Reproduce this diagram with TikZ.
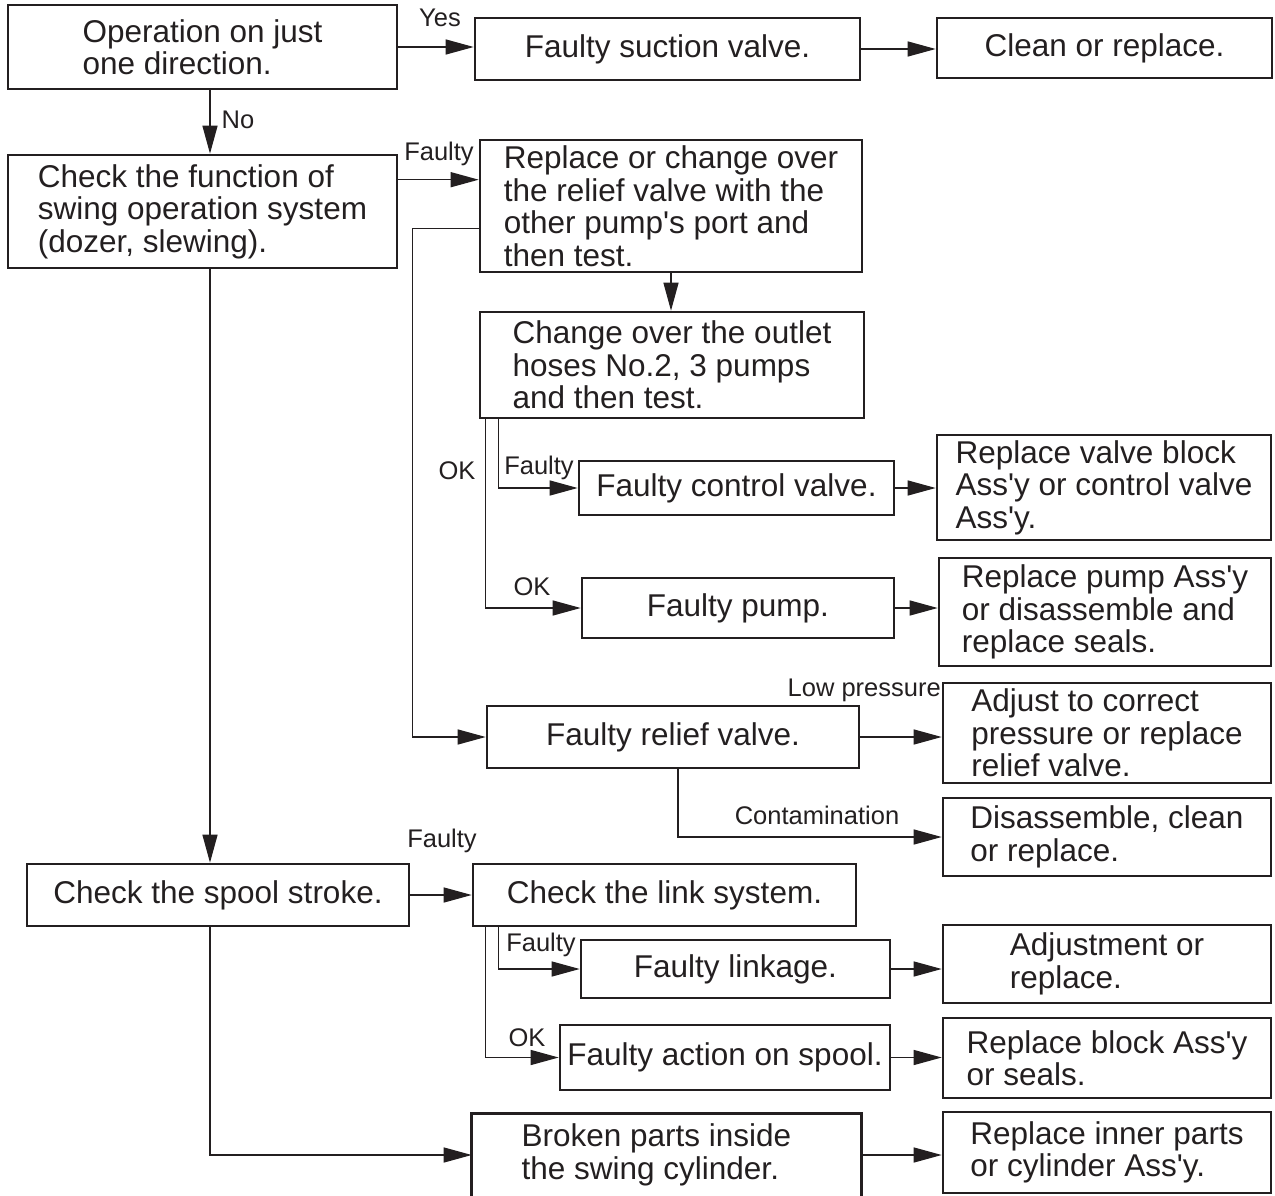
\documentclass[tikz,border=0pt]{standalone}
\usepackage{fontspec}
\newfontfamily\lsans{Liberation Sans}
\usetikzlibrary{arrows.meta,calc}
\definecolor{ink}{HTML}{231F20}
\begin{document}
\begin{tikzpicture}[x=1pt,y=-1pt,
  box/.style={draw=ink, line width=2.6pt, align=left, inner sep=0pt, text=ink,
    font=\lsans\fontsize{31.5}{32.5}\selectfont},
  lbl/.style={font=\lsans\fontsize{25.5}{27}\selectfont, text=ink, inner sep=0pt},
  arr/.style={draw=ink, line width=1.3pt, -{Triangle[length=28pt,width=15pt]}},
  ]
\useasboundingbox (0,0) rectangle (1275,1196);

% boxes
\node[box, minimum width=389pt, minimum height=84pt]  (A) at (202.5,47)   {Operation on just\\one direction.};
\node[box, minimum width=385pt, minimum height=62pt]  (B) at (667.5,49)   {Faulty suction valve.};
\node[box, minimum width=335pt, minimum height=60pt]  (C) at (1104.5,48)  {Clean or replace.};
\node[box, minimum width=389pt, minimum height=113pt] (D) at (202.5,211.5) {Check the function of\\swing operation system\\(dozer, slewing).};
\node[box, minimum width=382pt, minimum height=132pt] (E) at (671,206)    {Replace or change over\\the relief valve with the\\other pump's port and\\then test.};
\node[box, minimum width=384pt, minimum height=106pt] (F) at (672,365)    {Change over the outlet\\hoses No.2, 3 pumps\\and then test.};
\node[box, minimum width=315pt, minimum height=54pt]  (G) at (736.5,488)  {Faulty control valve.};
\node[box, minimum width=312pt, minimum height=60pt]  (H) at (738,608)    {Faulty pump.};
\node[box, minimum width=334pt, minimum height=105pt] (I) at (1104,487.5) {Replace valve block\\Ass'y or control valve\\Ass'y.};
\node[box, minimum width=332pt, minimum height=108pt] (J) at (1105,612)   {Replace pump Ass'y\\or disassemble and\\replace seals.};
\node[box, minimum width=372pt, minimum height=62pt]  (K) at (673,737)    {Faulty relief valve.};
\node[box, minimum width=328pt, minimum height=100pt] (L) at (1107,733)   {Adjust to correct\\pressure or replace\\relief valve.};
\node[box, minimum width=328pt, minimum height=78pt]  (M) at (1107,837)   {Disassemble, clean\\or replace.};
\node[box, minimum width=382pt, minimum height=62pt]  (N) at (218,895)    {Check the spool stroke.};
\node[box, minimum width=383pt, minimum height=62pt]  (O) at (664.5,895)  {Check the link system.};
\node[box, minimum width=309pt, minimum height=58pt]  (P) at (735.5,969)  {Faulty linkage.};
\node[box, minimum width=330pt, minimum height=65pt]  (Q) at (725,1057.5) {Faulty action on spool.};
\node[box, minimum width=328pt, minimum height=78pt]  (R) at (1107,964)   {Adjustment or\\replace.};
\node[box, minimum width=328pt, minimum height=80pt]  (S) at (1107,1058)  {Replace block Ass'y\\or seals.};
\node[box, draw=none, minimum width=387pt, minimum height=80pt] (T) at (656.5,1155) {Broken parts inside\\the swing cylinder.};
\coordinate (tw) at ($(T.west)+(10,0)$);
\coordinate (te) at ($(T.east)+(10,0)$);
\draw[draw=ink, line width=2.6pt] ($(T.south west)+(10,12)$) |- ($(T.north east)+(10,0)$) -- ($(T.south east)+(10,12)$);
\node[box, minimum width=328pt, minimum height=81pt]  (U) at (1107,1152.5) {Replace inner parts\\or cylinder Ass'y.};

% labels
\node[lbl] (lyes) at (440,18) {Yes};
\node[lbl] (lno) at (238,120) {No};
\node[lbl] (lf1) at (439,154) {Faulty};
\node[lbl] (lok1) at (457,471) {OK};
\node[lbl] (lf2) at (539,468) {Faulty};
\node[lbl] (lok2) at (532,587) {OK};
\node[lbl, anchor=east] (llow) at (941,690) {Low pressure};
\node[lbl] (lcont) at (817,815) {Contamination};
\node[lbl] (lf3) at (442,841) {Faulty};
\node[lbl] (lf4) at (541,945) {Faulty};
\node[lbl] (lok3) at (527,1038) {OK};

% helper coordinates
\coordinate (a1) at ($(A.south)+(7.5,0)$);
\coordinate (d1) at ($(D.south)+(7.5,0)$);
\coordinate (d2) at ($(D.north east)+(0,26)$);
\coordinate (e1) at ($(E.north west)+(0,90)$);
\coordinate (f1) at ($(F.south west)+(20,0)$);
\coordinate (f2) at ($(F.south west)+(7,0)$);
\coordinate (k1) at ($(K.south)+(5,0)$);
\coordinate (n1) at ($(N.south)+(-8,0)$);
\coordinate (o1) at ($(O.south west)+(27,0)$);
\coordinate (o2) at ($(O.south west)+(14,0)$);

% connectors
\draw[arr] (A.east) -- (A.east -| B.west);
\draw[arr] (B.east) -- (B.east -| C.west);
\draw[arr] (a1) -- (a1 |- D.north);
\draw[arr] (d2) -- (d2 -| E.west);
\draw[arr] (e1) -- ++(-66,0) |- (K.west);
\draw[arr] (E.south) -- (E.south |- F.north);
\draw[arr] (f1) |- (G.west);
\draw[arr] (f2) |- (H.west);
\draw[arr] (G.east) -- (G.east -| I.west);
\draw[arr] (H.east) -- (H.east -| J.west);
\draw[arr] (K.east) -- (K.east -| L.west);
\draw[arr] (k1) |- (M.west);
\draw[arr] (d1) -- (d1 |- N.north);
\draw[arr] (N.east) -- (N.east -| O.west);
\draw[arr] (o1) |- (P.west);
\draw[arr] (o2) |- (Q.west);
\draw[arr] (P.east) -- (P.east -| R.west);
\draw[arr] (Q.east) -- (Q.east -| S.west);
\draw[arr] (n1) |- (tw);
\draw[arr] (te) -- (te -| U.west);
\end{tikzpicture}
\end{document}
